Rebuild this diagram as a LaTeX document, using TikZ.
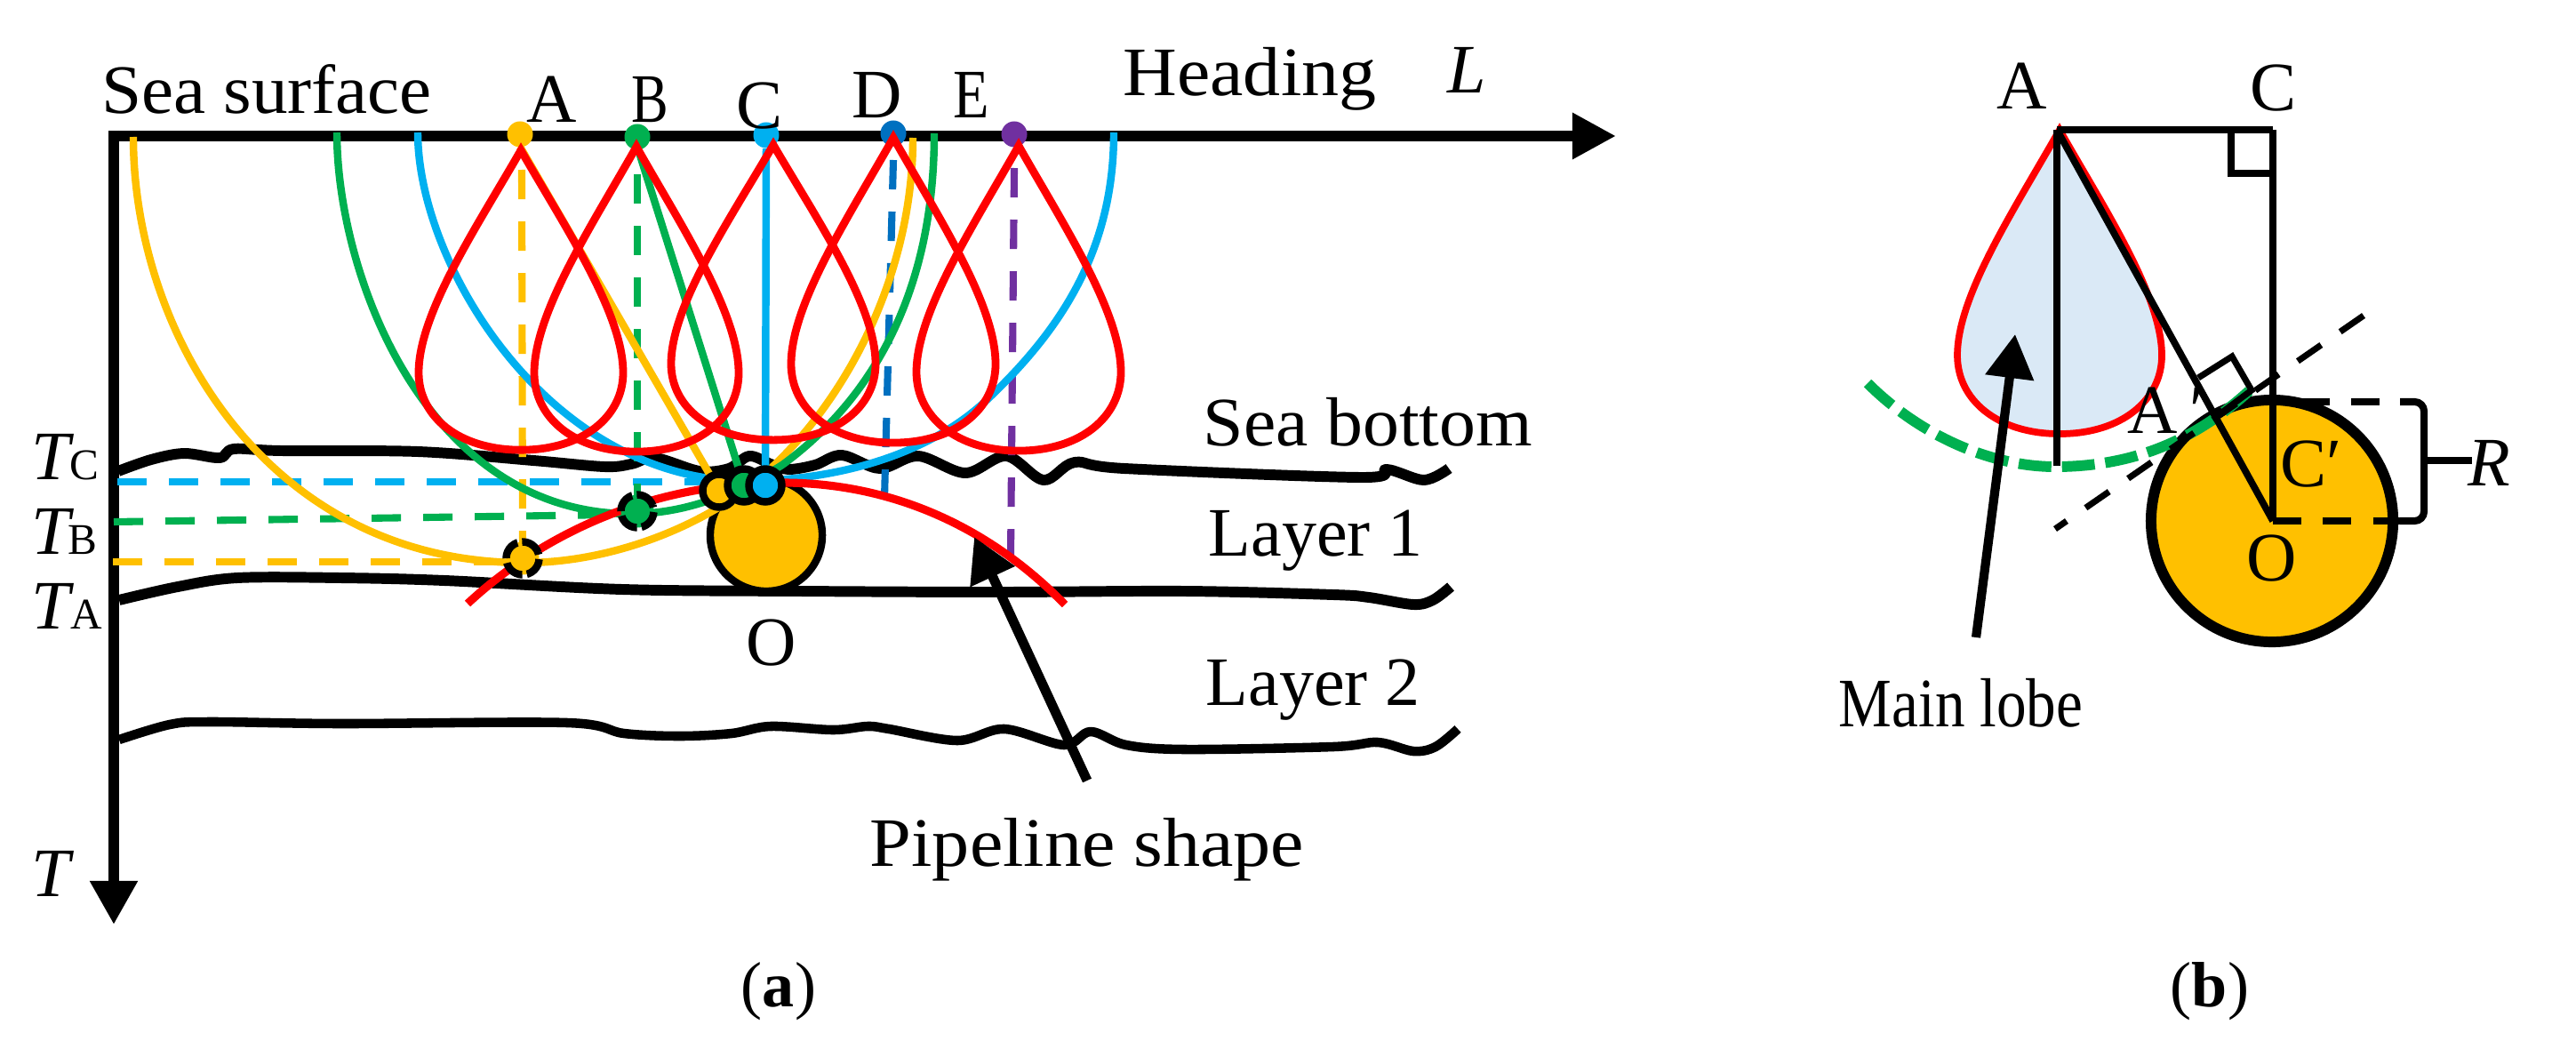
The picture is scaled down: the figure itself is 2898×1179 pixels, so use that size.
\documentclass[tikz,border=0pt]{standalone}
\usepackage{fontspec}
\usepackage{graphicx}
\setmainfont{Liberation Serif}
\usetikzlibrary{arrows.meta}
\definecolor{cY}{HTML}{FFC000}
\definecolor{cG}{HTML}{00B050}
\definecolor{cB}{HTML}{00B0F0}
\definecolor{cD}{HTML}{0070C0}
\definecolor{cP}{HTML}{7030A0}
\definecolor{cR}{HTML}{FF0000}
\definecolor{cL}{HTML}{DAE9F6}
\tikzset{
  txt/.style={anchor=base,inner sep=0pt,outer sep=0pt,font=\fontsize{22.2}{26}\selectfont},
  subtxt/.style={anchor=base,inner sep=0pt,outer sep=0pt,font=\fontsize{14}{16}\selectfont},
  captxt/.style={anchor=base,inner sep=0pt,outer sep=0pt,font=\fontsize{20.5}{24}\selectfont},
  topdot/.style={circle,inner sep=0pt,minimum size=0.29cm},
  ring/.style={circle,draw=black,line width=2.4pt,inner sep=0pt,minimum size=0.37cm},
  dashring/.style={ring,dash pattern=on 6.6pt off 1.5pt},
  axisline/.style={line width=3.6pt,black},
  sealine/.style={line width=3.4pt,black,line join=round},
  hyper/.style={line width=2.4pt},
  ddash/.style={line width=2.3pt,dash pattern=on 9.4pt off 7.1pt},
  lobe/.style={draw=cR,line width=2.5pt,miter limit=10},
  pipe/.style={draw=cR,line width=2.6pt},
  bline/.style={line width=2.2pt,black},
  tangent/.style={line width=2pt,black,dash pattern=on 9.1pt off 7.4pt},
  callout/.style={line width=3.1pt,black,-{Triangle[length=14pt,width=15pt]}},
  bigpipe/.style={circle,draw=black,fill=cY,inner sep=0pt},
}
\newcommand{\lobepath}{(0,0) .. controls (50,90) and (115,190) .. (115,259) .. controls (115,310) and (70,349) .. (0,349) .. controls (-70,349) and (-115,310) .. (-115,259) .. controls (-115,190) and (-50,90) .. (0,0) -- cycle}
\newcommand{\sx}[2]{\scalebox{#1}[1]{#2}}
\begin{document}
\begin{tikzpicture}[x=0.01cm,y=-0.01cm]
\useasboundingbox (0,0) rectangle (2898,1179);
% ---- coordinates
\coordinate (origin) at (122,153);
\coordinate (Lend) at (1818,153);
\coordinate (Oaxis) at (128,147);
\coordinate (Tend) at (128,1040);
% ---- seabed lines
\draw[sealine] plot[smooth,tension=.55] coordinates {(133,530) (170,517) (207,510) (247,515) (263,505) (317,507) (470,508) (600,518) (680,525) (710,522) (737,515) (787,530) (820,527) (843,513) (867,522) (887,528) (917,523) (947,512) (990,527) (1033,513) (1086,532) (1132,513) (1174,540) (1209,520) (1265,527) (1532,537) (1560,528) (1602,540) (1630,527)};
\draw[sealine] plot[smooth,tension=.55] coordinates {(134,675) (200,660) (267,650) (383,650) (500,653) (700,663) (900,665) (1123,666) (1333,665) (1500,669) (1540,672) (1590,680) (1612,675) (1632,660)};
\draw[sealine,line width=3pt] plot[smooth,tension=.55] coordinates {(134,832) (191,815) (236,812) (383,814) (638,813) (702,825) (765,828) (823,825) (867,817) (937,821) (976,817) (1000,820) (1077,833) (1130,820) (1197,838) (1227,823) (1267,838) (1333,843) (1500,840) (1550,835) (1590,845) (1615,840) (1640,820)};
% ---- axes
\draw[axisline,-{Triangle[length=14pt,width=14pt]}] (origin) -- (Lend);
\draw[axisline,line width=3.4pt,-{Triangle[length=14pt,width=14.5pt]}] (Oaxis) -- (Tend);
% ---- dots on the sea surface
\node[topdot,fill=cY] (dA) at (585,151) {};
\node[topdot,fill=cG] (dB) at (717,154) {};
\node[topdot,fill=cB] (dC) at (862,152) {};
\node[topdot,fill=cD] (dD) at (1005,150) {};
\node[topdot,fill=cP] (dE) at (1141,151) {};
% ---- pipeline
\node[bigpipe,line width=2.4pt,minimum size=1.26cm] (pO) at (862,602) {};
% ---- end points
\coordinate (rA) at (588,628);
\coordinate (rB) at (717,575);
\coordinate (tA) at (809,552);
\coordinate (tB) at (837,546);
\coordinate (tC) at (861,546);
\coordinate (eD) at (995,560);
\coordinate (eE) at (1137,627);
\coordinate (sA) at (587,191);
\coordinate (sB) at (717,196);
\coordinate (sD) at (1005,180);
\coordinate (sE) at (1141,189);
% ---- level dashes
\draw[ddash,cB] (132,542) -- (793,542);
\draw[ddash,cG] (128,587) -- (690,579);
\draw[ddash,cY] (127,632) -- (570,632);
\draw[ddash,cY] (sA) -- (rA);
\draw[ddash,cG] (sB) -- (rB);
\draw[ddash,cD] (sD) -- (eD);
\draw[ddash,cP] (sE) -- (eE);
% ---- hyperbolas
\draw[hyper,cY] (150,154) .. controls (150,374) and (300,633) .. (590,633) .. controls (690,633) and (800,590) .. (867,527) .. controls (960,440) and (1027,300) .. (1027,155);
\draw[hyper,cG] (379,149) .. controls (379,310) and (480,578) .. (710,578) .. controls (780,578) and (840,548) .. (880,523) .. controls (980,450) and (1051,330) .. (1051,150);
\draw[hyper,cB] (470,149) .. controls (470,300) and (620,541) .. (840,541) .. controls (910,541) and (1030,525) .. (1110,450) .. controls (1195,370) and (1253,280) .. (1253,149);
% ---- rays
\draw[hyper,cY] (585,165) -- (tA);
\draw[hyper,cG] (717,165) -- (tB);
\draw[hyper,cB] (dC) -- (tC);
% ---- lobes
\draw[lobe,shift={(586,169)},yscale=0.966] \lobepath;
\draw[lobe,shift={(716,165)},yscale=0.983] \lobepath;
\draw[lobe,shift={(870,163)},yscale=0.951] \lobepath;
\draw[lobe,shift={(1005,155)},yscale=0.983] \lobepath;
\draw[lobe,shift={(1146,164)},yscale=0.983] \lobepath;
% ---- pipeline shape
\draw[pipe] (526,679) .. controls (600,610) and (720,543) .. (880,543) .. controls (1000,543) and (1110,590) .. (1198,680);
% ---- rings
\node[dashring,fill=cY,rotate=20] (nrA) at (rA) {};
\node[dashring,fill=cG,rotate=20] (nrB) at (rB) {};
\node[ring,fill=cY] (ntA) at (tA) {};
\node[ring,fill=cG] (ntB) at (tB) {};
\node[ring,fill=cB] (ntC) at (tC) {};
% ---- pipeline callout
\coordinate (pcTail) at (1223,878);
\coordinate (pcTip) at (1096,604);
\draw[callout] (pcTail) -- (pcTip);
% ---- panel (a) labels
\node[txt] (tSea) at (300,128) {\sx{1.04}{Sea surface}};
\node[txt] (lA) at (621,138) {A};
\node[txt] (lB) at (731,138) {\sx{0.8}{B}};
\node[txt] (lC) at (855,145) {C};
\node[txt] (lD) at (987,133) {D};
\node[txt] (lE) at (1093,133) {\sx{0.85}{E}};
\node[txt] (tHead) at (1406,107) {\sx{1.077}{Heading}};
\node[txt] (tL) at (1650,105) {\itshape L};
\node[txt] (tBot) at (1539,501) {\sx{1.047}{Sea bottom}};
\node[txt] (tL1) at (1480,625) {Layer 1};
\node[txt] (tL2) at (1477,793) {Layer 2};
\node[txt] (tO) at (868,748) {O};
\node[txt] (tPipe) at (1223,974) {\sx{1.078}{Pipeline shape}};
\node[txt] (tT) at (57,1008) {\itshape T};
\node[txt] (tTc) at (57,539) {\itshape T};
\node[subtxt] (sTc) at (95,539) {C};
\node[txt] (tTb) at (57,623) {\itshape T};
\node[subtxt] (sTb) at (93,623) {B};
\node[txt] (tTa) at (57,707) {\itshape T};
\node[subtxt] (sTa) at (97,707) {A};
\node[captxt] (capA) at (876,1132) {(\textbf{a})};
% ---- panel (b)
\coordinate (bA) at (2314,146);
\coordinate (bC) at (2557,146);
\coordinate (bO) at (2557,586);
\coordinate (bAd) at (2314,524);
\draw[lobe,fill=cL,line width=2.2pt,shift={(2317,146)},yscale=0.98] \lobepath;
\node[bigpipe,line width=3.4pt,minimum size=2.72cm] (bPipe) at (2556,586) {};
\draw[line width=3.4pt,cG,dash pattern=on 10.5pt off 3.4pt] (2101,431) .. controls (2160,490) and (2240,525) .. (2312,525) .. controls (2400,525) and (2470,495) .. (2531,439);
\draw[bline] (bA) -- (bC);
\draw[bline] (bC) -- (bO);
\draw[bline] (bA) -- (bAd);
\draw[bline] (bA) -- (bO);
\draw[bline,line width=2.3pt] (2510,146) -- (2510,195) -- (2557,195);
\draw[bline,line width=2pt] (2473,425) -- (2511,401) -- (2533,439) -- (2494,468);
\coordinate (tanA) at (2659,355);
\coordinate (tanB) at (2312,595);
\draw[tangent] (tanA) -- (tanB);
\coordinate (rT0) at (2589,452);
\coordinate (rT1) at (2700,452);
\coordinate (rTc) at (2727,452);
\coordinate (rBc) at (2727,586);
\coordinate (rB1) at (2700,586);
\coordinate (rM) at (2727,518);
\coordinate (rEnd) at (2781,518);
\draw[line width=2.3pt,black,dash pattern=on 9pt off 7pt] (rT0) -- (rT1);
\draw[line width=2.3pt,black,dash pattern=on 9pt off 7pt] (bO) -- (rB1);
\draw[line width=2.3pt,black,rounded corners=3pt] (rT1) -- (rTc) -- (rBc) -- (rB1);
\draw[line width=2.3pt,black] (rM) -- (rEnd);
\coordinate (mlTail) at (2223,717);
\coordinate (mlTip) at (2267,376);
\draw[callout,line width=2.9pt] (mlTail) -- (mlTip);
\node[txt] (bLA) at (2275,123) {A};
\node[txt] (bLC) at (2557,125) {C};
\node[txt] (bLAp) at (2437,487) {A\kern4pt′};
\node[txt] (bLCp) at (2600,547) {C′};
\node[txt] (bLO) at (2556,653) {O};
\node[txt] (bLR) at (2800,546) {\itshape R};
\node[txt] (bLobe) at (2206,817) {\sx{0.86}{Main lobe}};
\node[captxt] (capB) at (2486,1132) {(\textbf{b})};
\end{tikzpicture}
\end{document}
